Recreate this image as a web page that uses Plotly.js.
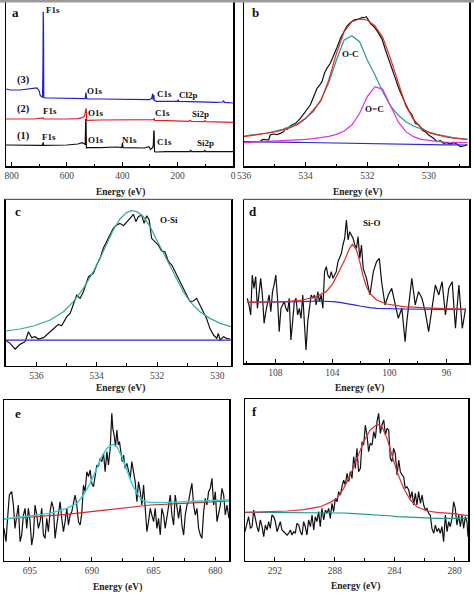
<!DOCTYPE html>
<html><head><meta charset="utf-8">
<script src="https://cdn.plot.ly/plotly-3.0.1.min.js"></script>
<style>html,body{margin:0;padding:0;background:#fff}#plot{width:474px;height:594px}</style>
</head><body><div id="plot"></div>
<script>
// ---------- Panel a: survey spectra ----------
var a3_E = [820,805,770,740,721,708,700,697,692,688,686.5,685.5,684.5,683.5,680,660,600,560,540,534,532,531,529,526,480,420,360,312,302,294,291,290,288.5,287,286,284.5,280,276,240,200,198,196,155,120,60,37,34,31,20,0];
var a3_I = [231,228,228,231,233,234,225,213,208,207,300,463,420,206,204,204,203,203,202,202,215,220,203,201,201,200,199,198,199,202,215,217,199,212,213,197,195,194,194,194,199,194,193,192,191,192,196,191,190,189];
var a2_E = [820,780,720,686,684,600,560,545,536,532,530,528.5,526,480,400,300,287,285,283,240,160,154,150,104,101,98,50,0];
var a2_I = [141,141,141,144,141,141,142,145,150,168,173,138,137,138,138,138,139,143,137,136,134,137,134,133,136,133,132,131];
var a1_E = [820,780,700,688,686,684,600,560,545,538,534,532,531,529.5,525,480,420,402,399.5,397,360,320,304,298,292,288,286,285,283.5,280,240,156,153,150,105,102,99,0];
var a1_I = [63,62,62,62,71,62,63,66,70,67,64,140,140,54,55,55,57,55,69,55,55,54,58,50,54,60,105,105,43,42,43,43,48,43,43,48,43,43];

// ---------- Panel b: O1s ----------
var bFitE = [536,535.75,535.5,535.25,535,534.75,534.5,534.25,534,533.75,533.5,533.25,533,532.75,532.5,532.25,532,531.75,531.5,531.25,531,530.75,530.5,530.25,530,529.75,529.5,529.25,529,528.75];
var bEnvelope = [88,91,95,98,102,108,115,125,142,168,196,258,338,403,433,441,438,420,386,323,248,180,140,115,100,93,88,84,81,79];
var bOC = [90,92,96,99,104,110,118,128,144,163,200,250,318,378,391,373,318,273,223,180,153,133,120,110,102,95,90,86,83,81];
var bOdC = [70,71,72,73,74,75,76,78,80,82,85,89,95,105,123,158,208,238,230,180,133,103,88,80,76,74,72,71,70,70];
var bBg = [73,73,72.5,72,72,71.5,71,71,70.5,70,69.5,69,68.5,68,67.5,67,66.5,66,65.5,65,65,64.5,64.5,64,64,64,63.5,63.5,63,63];
var bDataE = [535.47,535.36,535.2,535.15,535.04,534.93,534.82,534.71,534.66,534.6,534.5,534.33,534.17,534.06,533.96,533.85,533.74,533.63,533.54,533.47,533.39,533.31,533.2,533.09,532.98,532.87,532.77,532.66,532.55,532.44,532.33,532.23,532.17,532.1,532.03,531.96,531.9,531.81,531.74,531.63,531.52,531.41,531.31,531.2,531.09,530.98,530.87,530.77,530.66,530.55,530.44,530.33,530.22,530.12,530.01,529.85,529.74,529.63,529.52,529.41,529.31,529.2,529.09,528.98,528.87,528.76];
var bData = [76,80,78,93,96,94,98,103,113,110,120,128,143,158,168,183,208,233,243,253,278,293,308,330,356,383,403,420,430,438,440,442,446,445,448,436,428,420,413,398,380,348,323,293,263,233,208,188,168,153,128,123,108,103,93,83,73,76,68,70,66,70,66,58,60,64];

// ---------- Panel c: O-Si ----------
var cFitE = [537.03,536.54,536.09,535.54,535.10,534.77,534.44,534.11,533.89,533.67,533.45,533.23,533.0,532.84,532.67,532.45,532.23,532.01,531.79,531.57,531.35,531.13,530.91,530.58,530.25,529.91,529.55];
var cFit = [104,110,119,137,162,192,232,282,322,367,407,440,460,465,462,447,417,377,337,297,257,222,192,162,142,127,117];
var cBgE = [537.03,529.55];
var cBg = [77,77];
var cDataE = [537.03,536.87,536.70,536.54,536.37,536.26,536.15,536.04,535.93,535.76,535.54,535.43,535.27,535.16,534.99,534.88,534.77,534.66,534.55,534.44,534.27,534.11,534.00,533.89,533.78,533.67,533.56,533.45,533.34,533.23,533.11,533.00,532.89,532.78,532.70,532.62,532.51,532.43,532.34,532.26,532.18,532.07,531.96,531.85,531.74,531.62,531.51,531.40,531.24,531.13,531.02,530.91,530.80,530.69,530.58,530.47,530.36,530.25,530.13,530.02,529.97,529.91,529.80,529.69,529.58];
var cData = [77,67,50,64,72,102,84,87,80,84,102,112,124,120,147,157,182,212,202,222,267,277,302,322,352,372,387,412,422,427,420,432,444,454,432,447,452,427,450,437,382,372,362,344,342,312,302,282,252,232,212,192,194,202,182,162,142,112,92,82,97,77,87,82,80];

// ---------- Panel d: Si-O ----------
var dFitE = [109.97,108.44,107.26,106.08,105.14,104.43,103.96,103.49,103.14,102.79,102.6,102.31,102.08,101.84,101.61,101.37,100.9,100.19,99.02,96.66,94.66];
var dFit = [183,183,185,190,200,215,240,280,310,345,357,340,305,260,230,210,190,178,170,165,162];
var dBg = [183,183,184,185,187,187,185,183,181,177,176,174,172,170,168,167,165,164,163,162,162];
var dDataE = [109.97,109.85,109.73,109.62,109.50,109.38,109.26,109.15,109.03,108.91,108.79,108.67,108.56,108.44,108.32,108.20,108.09,107.97,107.85,107.73,107.61,107.50,107.38,107.26,107.14,107.03,106.91,106.79,106.67,106.55,106.44,106.32,106.20,106.08,105.97,105.85,105.73,105.61,105.49,105.38,105.26,105.14,105.02,104.91,104.79,104.67,104.55,104.43,104.32,104.20,104.08,103.96,103.85,103.73,103.61,103.49,103.37,103.26,103.14,103.02,102.90,102.79,102.67,102.55,102.43,102.31,102.20,102.08,101.96,101.84,101.61,101.37,101.13,100.90,100.71,100.55,100.31,100.08,99.84,99.61,99.38,99.13,98.90,98.78,98.55,98.43,98.19,97.96,97.72,97.49,97.25,97.01,96.78,96.54,96.31,96.07,95.84,95.60,95.37,95.13,94.89,94.66];
var dData = [195,175,145,265,225,260,165,205,255,205,120,155,175,205,155,215,235,265,195,95,165,175,185,165,155,195,70,125,185,195,145,165,135,205,105,40,125,175,205,195,205,175,215,185,205,165,275,290,265,255,275,255,265,275,305,320,330,355,375,430,370,395,385,375,355,345,380,315,355,285,255,205,275,305,315,245,175,205,225,175,135,165,65,125,205,255,175,215,195,155,95,175,235,205,245,145,225,245,105,235,105,165];

// ---------- Panel e: F1s ----------
var eFitE = [697.1,694.72,693.37,692.02,691.21,690.67,690.13,689.59,689.19,688.78,688.3,687.97,687.57,687.16,686.76,686.35,685.95,685.41,683.92,681.22,678.9];
var eFit = [125,135,142,157,172,197,232,277,312,337,349,342,312,272,232,202,182,175,175,179,182];
var eBgE = [697.1,692.02,689.32,686.62,685.27,682.57,678.9];
var eBg = [125,139,150,162,167,172,179];
var eDataE = [697.1,696.94,696.83,696.67,696.48,696.34,696.21,696.07,695.94,695.80,695.67,695.53,695.40,695.26,695.13,694.99,694.86,694.72,694.59,694.45,694.32,694.18,694.05,693.91,693.78,693.64,693.51,693.37,693.24,693.10,692.97,692.83,692.70,692.56,692.43,692.29,692.16,692.02,691.89,691.75,691.62,691.48,691.35,691.21,691.08,690.94,690.81,690.67,690.54,690.40,690.27,690.13,690.00,689.86,689.73,689.59,689.46,689.32,689.19,689.05,688.92,688.78,688.65,688.51,688.38,688.30,688.19,688.08,687.97,687.86,687.76,687.65,687.54,687.43,687.30,687.16,687.03,686.89,686.76,686.62,686.49,686.35,686.22,686.08,685.95,685.81,685.68,685.54,685.41,685.27,685.14,685.00,684.87,684.73,684.60,684.46,684.33,684.19,684.06,683.92,683.79,683.65,683.52,683.38,683.25,683.11,682.98,682.84,682.71,682.57,682.44,682.30,682.17,682.03,681.90,681.76,681.63,681.49,681.36,681.22,681.09,680.95,680.82,680.68,680.55,680.41,680.28,680.14,680.01,679.87,679.74,679.60,679.47,679.33,679.20,679.06,678.90];
var eData = [97,57,117,197,207,167,97,137,167,57,77,137,157,97,157,117,47,77,167,137,97,117,157,77,67,127,87,147,177,157,67,107,137,177,127,87,117,157,107,137,147,177,197,167,117,107,142,227,207,267,252,272,232,222,257,287,282,307,297,322,267,327,287,337,442,397,377,342,392,347,357,327,297,317,277,292,267,247,297,267,237,177,237,207,167,227,167,87,117,157,137,117,157,97,127,77,157,137,97,137,167,197,137,107,197,167,127,167,107,77,137,167,177,207,232,167,137,157,97,77,67,147,187,167,207,217,247,167,207,117,147,167,217,197,137,167,127];

// ---------- Panel f: C1s ----------
var fFitE = [294,292.31,291.19,290.08,288.97,288.3,287.85,287.41,286.96,286.52,286.07,285.63,285.18,284.85,284.51,284.18,283.84,283.4,282.95,282.51,281.84,281.17,280.06,279.1];
var fFit = [145,147,149,153,162,175,187,217,257,307,357,392,409,402,367,317,267,217,182,162,149,145,141,135];
var fBg = [145,145,145,145,145,144,144,143,142,141,140,139,137,136,135,134,132,131,130,129,128,127,127,127];
var fDataE = [294.00,293.87,293.76,293.64,293.53,293.42,293.31,293.20,293.09,292.98,292.86,292.75,292.64,292.53,292.42,292.31,292.20,292.08,291.97,291.86,291.75,291.64,291.53,291.42,291.31,291.19,291.08,290.97,290.86,290.75,290.64,290.53,290.41,290.30,290.19,290.08,289.97,289.86,289.75,289.63,289.52,289.41,289.30,289.19,289.08,288.97,288.86,288.74,288.63,288.52,288.41,288.30,288.19,288.08,287.96,287.85,287.74,287.63,287.52,287.41,287.30,287.18,287.07,286.96,286.85,286.74,286.63,286.52,286.41,286.29,286.18,286.07,285.96,285.85,285.74,285.63,285.51,285.40,285.29,285.18,285.07,284.96,284.85,284.73,284.62,284.51,284.40,284.29,284.18,284.07,283.96,283.84,283.73,283.62,283.51,283.40,283.29,283.18,283.06,282.95,282.84,282.73,282.62,282.51,282.40,282.28,282.17,282.06,281.95,281.84,281.73,281.62,281.51,281.39,281.28,281.17,281.06,280.95,280.84,280.73,280.61,280.50,280.39,280.28,280.17,280.06,279.95,279.84,279.72,279.61,279.50,279.39,279.28,279.17,279.10];
var fData = [87,117,132,97,102,152,122,102,87,122,102,72,107,92,117,97,137,132,117,87,102,117,92,87,82,77,82,92,77,87,82,112,107,87,77,117,102,77,122,102,137,92,132,117,147,102,157,122,152,142,157,127,172,147,187,177,207,197,222,242,227,262,237,267,247,312,277,337,267,277,357,347,407,377,327,352,347,387,367,417,442,382,407,422,377,397,392,307,297,337,322,257,302,267,257,252,217,222,212,187,207,167,202,167,207,172,197,167,152,157,142,137,97,82,107,87,97,82,102,57,137,87,117,102,127,177,157,107,137,102,137,97,132,117,72];

// ---------- labels ----------
var panelLetters = ['a','b','c','d','e','f'];
var peakLabelsA = ['F1s','(3)','O1s','C1s','Cl2p','(2)','F1s','O1s','C1s','Si2p','(1)','F1s','O1s','N1s','C1s','Si2p'];
var componentLabels = ['O-C','O=C','O-Si','Si-O'];
var xTitle = 'Energy (eV)';

// ---------- layout helpers (pixel -> paper) ----------
var W = 474, H = 594;
function px(x){ return x / W; }
function py(y){ return 1 - y / H; }

var SERIF = 'Liberation Serif, Times New Roman, serif';
function xAx(dom, rng, dtick, minor, stand){
  return {domain:[px(dom[0]),px(dom[1])], range:rng,
    showline:true, mirror:true, linecolor:'#000', linewidth:1.5,
    ticks:'inside', ticklen:4, tickwidth:1, tickcolor:'#000',
    tick0:0, dtick:dtick, showgrid:false, zeroline:false,
    ticklabelstandoff:stand,
    tickfont:{family:SERIF, size:9.5, color:'#444'},
    minor:{ticks:'inside', ticklen:2.5, tickwidth:1, tickcolor:'#000', dtick:minor, tick0:0, showgrid:false},
    fixedrange:true};
}
function yAx(dom, rng){
  return {domain:[py(dom[1]),py(dom[0])], range:rng,
    showline:true, mirror:true, linecolor:'#000', linewidth:1.5,
    ticks:'', showticklabels:false, showgrid:false, zeroline:false, fixedrange:true};
}

var layout = {width:W, height:H, margin:{l:0,r:0,t:0,b:0}, showlegend:false,
  paper_bgcolor:'#fff', plot_bgcolor:'#fff',
  xaxis: xAx([6,233],[820,0],200,100,2.5),
  yaxis: yAx([1.5,166],[0,493.5]),
  xaxis2: xAx([244,469],[536,528.7],2,1,2.5),
  yaxis2: yAx([1.5,166],[0,493.5]),
  xaxis3: xAx([5.5,231],[537.02,529.55],2,1,1.5),
  yaxis3: yAx([200,365.7],[0,497]),
  xaxis4: xAx([244,469],[110.2,94.42],4,2,2.8),
  yaxis4: yAx([200,363.3],[0,490]),
  xaxis5: xAx([4,229],[697.1,678.9],5,2.5,4.2),
  yaxis5: yAx([400,560.7],[0,482]),
  xaxis6: xAx([245,468],[294,279.1],4,2,3.5),
  yaxis6: yAx([399,560.7],[0,485])
};
for (var i=1;i<=6;i++){
  var s = i===1 ? '' : String(i);
  layout['xaxis'+s].anchor = 'y'+s;
  layout['yaxis'+s].anchor = 'x'+s;
}

function ann(text, x, y, size, bold, color, anchor){
  return {text: bold ? '<b>'+text+'</b>' : text, x:px(x), y:py(y), xref:'paper', yref:'paper',
    xanchor:anchor||'center', yanchor:'middle', showarrow:false,
    font:{family:SERIF, size:size, color:color||'#111'}};
}
var letterPos = [[15,12],[255,12],[18,212],[253,212],[18,413],[254,411]];
var annotations = [];
panelLetters.forEach(function(t,i){ annotations.push(ann(t, letterPos[i][0], letterPos[i][1], 13, true)); });
var peakPosA = [[53,10],[23,80],[95,91],[164,94],[188,95],[23,109],[50,111],[96,113],[162,113],[200,114],[23,136],[49,137],[96,140],[129,140],[164,142],[205,143]];
peakLabelsA.forEach(function(t,i){
  var isNum = t.charAt(0)==='(';
  annotations.push(ann(t, peakPosA[i][0], peakPosA[i][1], isNum?10.5:9, true));
});
var compPos = [[350,54],[374,109],[169,220],[372,223]];
componentLabels.forEach(function(t,i){ annotations.push(ann(t, compPos[i][0], compPos[i][1], 9, true)); });
var titlePos = [[120,192],[357,192],[120,388.5],[359,388.5],[117,587],[355,586]];
titlePos.forEach(function(p){ annotations.push(ann(xTitle, p[0], p[1], 9.5, true, '#222')); });
layout.annotations = annotations;

layout.shapes = [
  {type:'rect', xref:'paper', yref:'paper', x0:0, x1:1, y0:py(2.5), y1:1, fillcolor:'#9a9a9a', line:{width:0}, layer:'above'},
  {type:'line', xref:'paper', yref:'paper', x0:px(5), x1:px(232), y0:py(199), y1:py(199), line:{color:'#b5b5b5', width:1}},
  {type:'line', xref:'paper', yref:'paper', x0:px(243), x1:px(470), y0:py(199), y1:py(199), line:{color:'#b5b5b5', width:1}}
];

function tr(x, y, color, ax, w){
  var s = ax===1 ? '' : String(ax);
  return {x:x, y:y, type:'scatter', mode:'lines', xaxis:'x'+s, yaxis:'y'+s,
    line:{color:color, width:w||1.2}, hoverinfo:'skip'};
}
var data = [
  tr(a1_E, a1_I, '#111111', 1),
  tr(a2_E, a2_I, '#e02020', 1),
  tr(a3_E, a3_I, '#2020c8', 1),
  tr(bDataE, bData, '#111111', 2),
  tr(bFitE, bBg, '#2a2ad0', 2),
  tr(bFitE, bOC, '#2a9a8c', 2),
  tr(bFitE, bOdC, '#e030e0', 2),
  tr(bFitE, bEnvelope, '#e02828', 2),
  tr(cDataE, cData, '#111111', 3),
  tr(cBgE, cBg, '#2a2ad0', 3),
  tr(cFitE, cFit, '#3aa89a', 3),
  tr(dDataE, dData, '#111111', 4),
  tr(dFitE, dBg, '#2a2ad0', 4),
  tr(dFitE, dFit, '#e02a2a', 4),
  tr(eDataE, eData, '#111111', 5),
  tr(eBgE, eBg, '#d42a2a', 5),
  tr(eFitE, eFit, '#2ad4d4', 5, 1.4),
  tr(fDataE, fData, '#111111', 6),
  tr(fFitE, fBg, '#1f9a8a', 6),
  tr(fFitE, fFit, '#e0303c', 6)
];
Plotly.newPlot('plot', data, layout, {staticPlot:true, displayModeBar:false});
</script></body></html>
